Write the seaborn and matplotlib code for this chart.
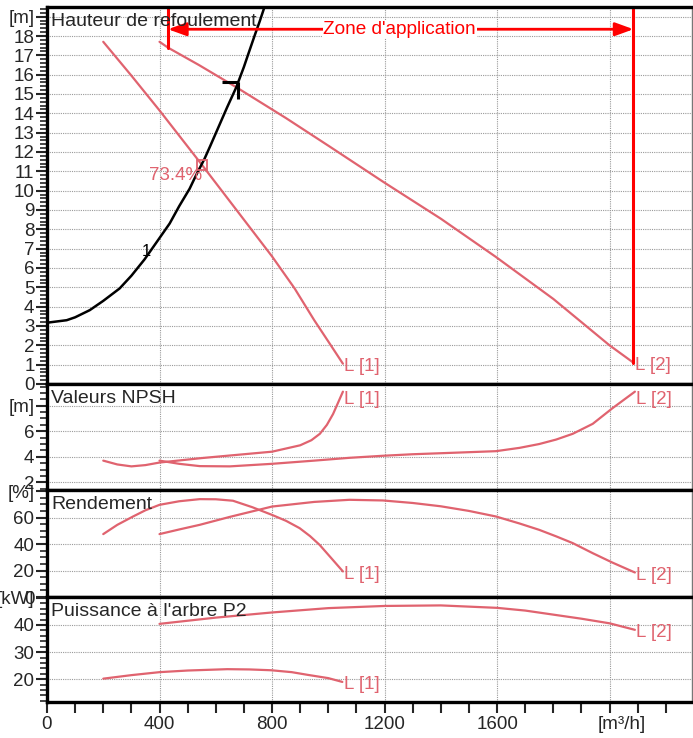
import matplotlib
matplotlib.use("Agg")
import matplotlib.pyplot as plt
from matplotlib.ticker import MultipleLocator, FixedLocator
from matplotlib.transforms import ScaledTranslation
import seaborn as sns
import pandas as pd

# Hauteur (Q-H)
q_h1 = [200, 300, 400, 550, 700, 800, 880, 950, 1000, 1052]
h_1 = [17.7, 15.95, 14.15, 11.35, 8.5, 6.6, 4.95, 3.3, 2.2, 1.05]
q_h2 = [400, 430, 540, 673, 850, 1004, 1197, 1400, 1596, 1800, 1999, 2085]
h_2 = [17.7, 17.4, 16.5, 15.35, 13.75, 12.29, 10.44, 8.55, 6.57, 4.4, 2.01, 1.1]

# Courbe du réseau "1"
q_sys = [0, 70, 100, 152, 200, 258, 300, 347, 400, 436, 470, 507, 530, 560,
         580, 607, 640, 673, 700, 714, 740, 756, 780]
h_sys = [3.17, 3.3, 3.45, 3.82, 4.3, 4.94, 5.6, 6.45, 7.55, 8.3, 9.2, 10.1,
         10.8, 11.65, 12.3, 13.2, 14.3, 15.35, 16.4, 17.0, 18.1, 18.75, 19.8]

# Valeurs NPSH
q_n1 = [200, 250, 300, 350, 400, 550, 700, 800, 900, 940, 970, 995, 1017, 1052]
n_1 = [3.7, 3.4, 3.25, 3.35, 3.55, 3.9, 4.2, 4.4, 4.9, 5.3, 5.8, 6.5, 7.35, 9.1]
q_n2 = [400, 470, 543, 650, 800, 950, 1075, 1194, 1300, 1450, 1596, 1680, 1750,
        1810, 1869, 1940, 2010, 2090]
n_2 = [3.7, 3.45, 3.27, 3.25, 3.45, 3.7, 3.92, 4.08, 4.2, 4.32, 4.44, 4.7, 5.0,
       5.35, 5.8, 6.58, 7.8, 9.1]

# Rendement
q_e1 = [200, 250, 306, 350, 400, 470, 543, 600, 661, 730, 800, 850, 898, 935,
        969, 1010, 1052]
e_1 = [47.5, 54.5, 60.8, 65.5, 69.6, 72.3, 73.9, 73.8, 72.7, 67.8, 62.0, 57.5,
       52.0, 46.0, 39.4, 29.5, 19.3]
q_e2 = [400, 470, 543, 650, 800, 950, 1075, 1194, 1300, 1400, 1500, 1596, 1680,
        1750, 1810, 1869, 1940, 2010, 2090]
e_2 = [47.5, 51.0, 54.5, 60.5, 68.3, 71.8, 73.4, 72.9, 71.0, 68.5, 65.0, 60.8,
       55.5, 50.7, 45.8, 40.7, 33.1, 26.0, 18.5]

# Puissance à l'arbre P2
q_p1 = [200, 300, 400, 500, 641, 720, 797, 870, 927, 1000, 1050]
p_1 = [20.2, 21.5, 22.6, 23.2, 23.7, 23.6, 23.3, 22.6, 21.6, 20.4, 19.0]
q_p2 = [400, 600, 800, 1000, 1200, 1400, 1600, 1700, 1800, 1900, 2000, 2090]
p_2 = [40.4, 42.7, 44.6, 46.2, 47.0, 47.2, 46.3, 45.3, 43.8, 42.3, 40.6, 38.2]

# Point de fonctionnement, zone d'application, rendement optimal
op_q, op_h = 680, 15.6
zone_q = [430, 2085]
zone_h = [17.4, 1.1]
zone_arrow_h = 18.35
eta_q, eta_h, eta_txt = 552, 11.35, "73.4%"

x_ticks = [0, 400, 800, 1200, 1600, 2000]
x_labels = ["0", "400", "800", "1200", "1600", "[m³/h]"]

PINK = "#e0636f"
RED = "#ff0000"

sns.set_style("white")
plt.rcParams["font.family"] = ["Liberation Sans", "DejaVu Sans"]

fig = plt.figure(figsize=(6.93, 7.38), dpi=100)
L, W = 47 / 693, 645 / 693
ax_h = fig.add_axes([L, 354 / 738, W, 377 / 738])
ax_n = fig.add_axes([L, 248 / 738, W, 106 / 738])
ax_e = fig.add_axes([L, 141 / 738, W, 107 / 738])
ax_p = fig.add_axes([L, 36 / 738, W, 105 / 738])
axes = [ax_h, ax_n, ax_e, ax_p]


def curve(ax, q, v, color=PINK, lw=1.6, label=None, dy=-2):
    df = pd.DataFrame({"Q": q, "V": v})
    sns.lineplot(data=df, x="Q", y="V", ax=ax, color=color, lw=lw,
                 sort=False, estimator=None)
    if label:
        ax.annotate(label, xy=(q[-1], v[-1]), xytext=(1, dy),
                    textcoords="offset points", va="center", ha="left",
                    color=color, fontsize=13.5)


def setup(ax, ylim, major, minor, labels, title):
    ax.set_xlim(0, 2293)
    ax.set_ylim(*ylim)
    ax.yaxis.set_major_locator(FixedLocator(major))
    ax.set_yticklabels(labels)
    ax.yaxis.set_minor_locator(MultipleLocator(minor))
    ax.xaxis.set_major_locator(FixedLocator(x_ticks))
    ax.xaxis.set_minor_locator(MultipleLocator(100))
    ax.grid(True, which="major", color="#9a9a9a", ls=(0, (1, 1)), lw=0.8)
    for s in ["left", "bottom", "top"]:
        ax.spines[s].set_linewidth(2.4)
        ax.spines[s].set_color("black")
    ax.spines["right"].set_color("#777777")
    ax.spines["right"].set_linewidth(1)
    ax.tick_params(axis="y", which="major", direction="out", length=8,
                   width=1.5, labelsize=13.5, pad=1, left=True)
    ax.tick_params(axis="y", which="minor", direction="out", length=5,
                   width=1.2, left=True)
    ax.tick_params(axis="x", which="both", bottom=False, labelbottom=False)
    ax.annotate(title, xy=(0, 1), xycoords="axes fraction", xytext=(3, -4),
                textcoords="offset points", ha="left", va="top", fontsize=14)


# Hauteur
curve(ax_h, q_h1, h_1, label="L [1]")
curve(ax_h, q_h2, h_2, label="L [2]")
curve(ax_h, q_sys, h_sys, color="black", lw=1.8)
ax_h.text(354, 6.83, "1", fontsize=12, ha="center", va="center", color="black")

# point de fonctionnement
ax_h.plot([op_q - 58, op_q], [op_h, op_h], color="black", lw=2.2, solid_capstyle="butt")
ax_h.plot([op_q, op_q], [op_h, op_h - 0.85], color="black", lw=2.2, solid_capstyle="butt")

# rendement optimal
ax_h.plot([eta_q], [eta_h], marker="s", ms=7, mfc="none", mec=PINK, mew=1.3)
ax_h.annotate(eta_txt, xy=(eta_q, eta_h), xytext=(0, -8), textcoords="offset points",
              ha="right", va="center", color=PINK, fontsize=13.5)

# zone d'application
for zq, zh in zip(zone_q, zone_h):
    ax_h.plot([zq, zq], [zh, 19.5], color=RED, lw=2.2, clip_on=False)
ax_h.annotate("", xy=(zone_q[0], zone_arrow_h), xytext=(zone_q[1], zone_arrow_h),
              arrowprops=dict(arrowstyle="<|-|>,head_length=1.1,head_width=0.4",
                              color=RED, lw=2, shrinkA=0, shrinkB=0))
ax_h.text(1254, zone_arrow_h, "Zone d'application", color=RED, fontsize=13.7,
          ha="center", va="center",
          bbox=dict(facecolor="white", edgecolor="none", pad=0.5))

# NPSH
curve(ax_n, q_n1, n_1, label="L [1]", dy=-6)
curve(ax_n, q_n2, n_2, label="L [2]", dy=-6)

# Rendement
curve(ax_e, q_e1, e_1, label="L [1]")
curve(ax_e, q_e2, e_2, label="L [2]")

# Puissance
curve(ax_p, q_p1, p_1, label="L [1]")
curve(ax_p, q_p2, p_2, label="L [2]")

setup(ax_h, (0, 19.5), list(range(20)), 0.2,
      [str(i) for i in range(19)] + ["[m]"], "Hauteur de refoulement")
setup(ax_n, (1.4, 9.7), [2, 4, 6, 8], 0.5, ["2", "4", "6", "[m]"], "Valeurs NPSH")
setup(ax_e, (0, 80.8), [0, 20, 40, 60, 80], 5, ["0", "20", "40", "60", "[%]"], "Rendement")
setup(ax_p, (11.6, 50.3), [20, 30, 40, 50], 2, ["20", "30", "40", "[kW]"],
      "Puissance à l'arbre P2")

for ax in axes:
    ax.set_xlabel("")
    ax.set_ylabel("")

ax_p.tick_params(axis="x", which="both", bottom=True, labelbottom=True,
                 direction="out", length=8, width=1.5, labelsize=13.5, pad=2)
ax_p.set_xticklabels(x_labels)
unit_lbl = ax_p.get_xticklabels()[-1]
unit_lbl.set_transform(unit_lbl.get_transform()
                       + ScaledTranslation(12 / 100, 0, fig.dpi_scale_trans))

fig.savefig("out.png", dpi=100)
